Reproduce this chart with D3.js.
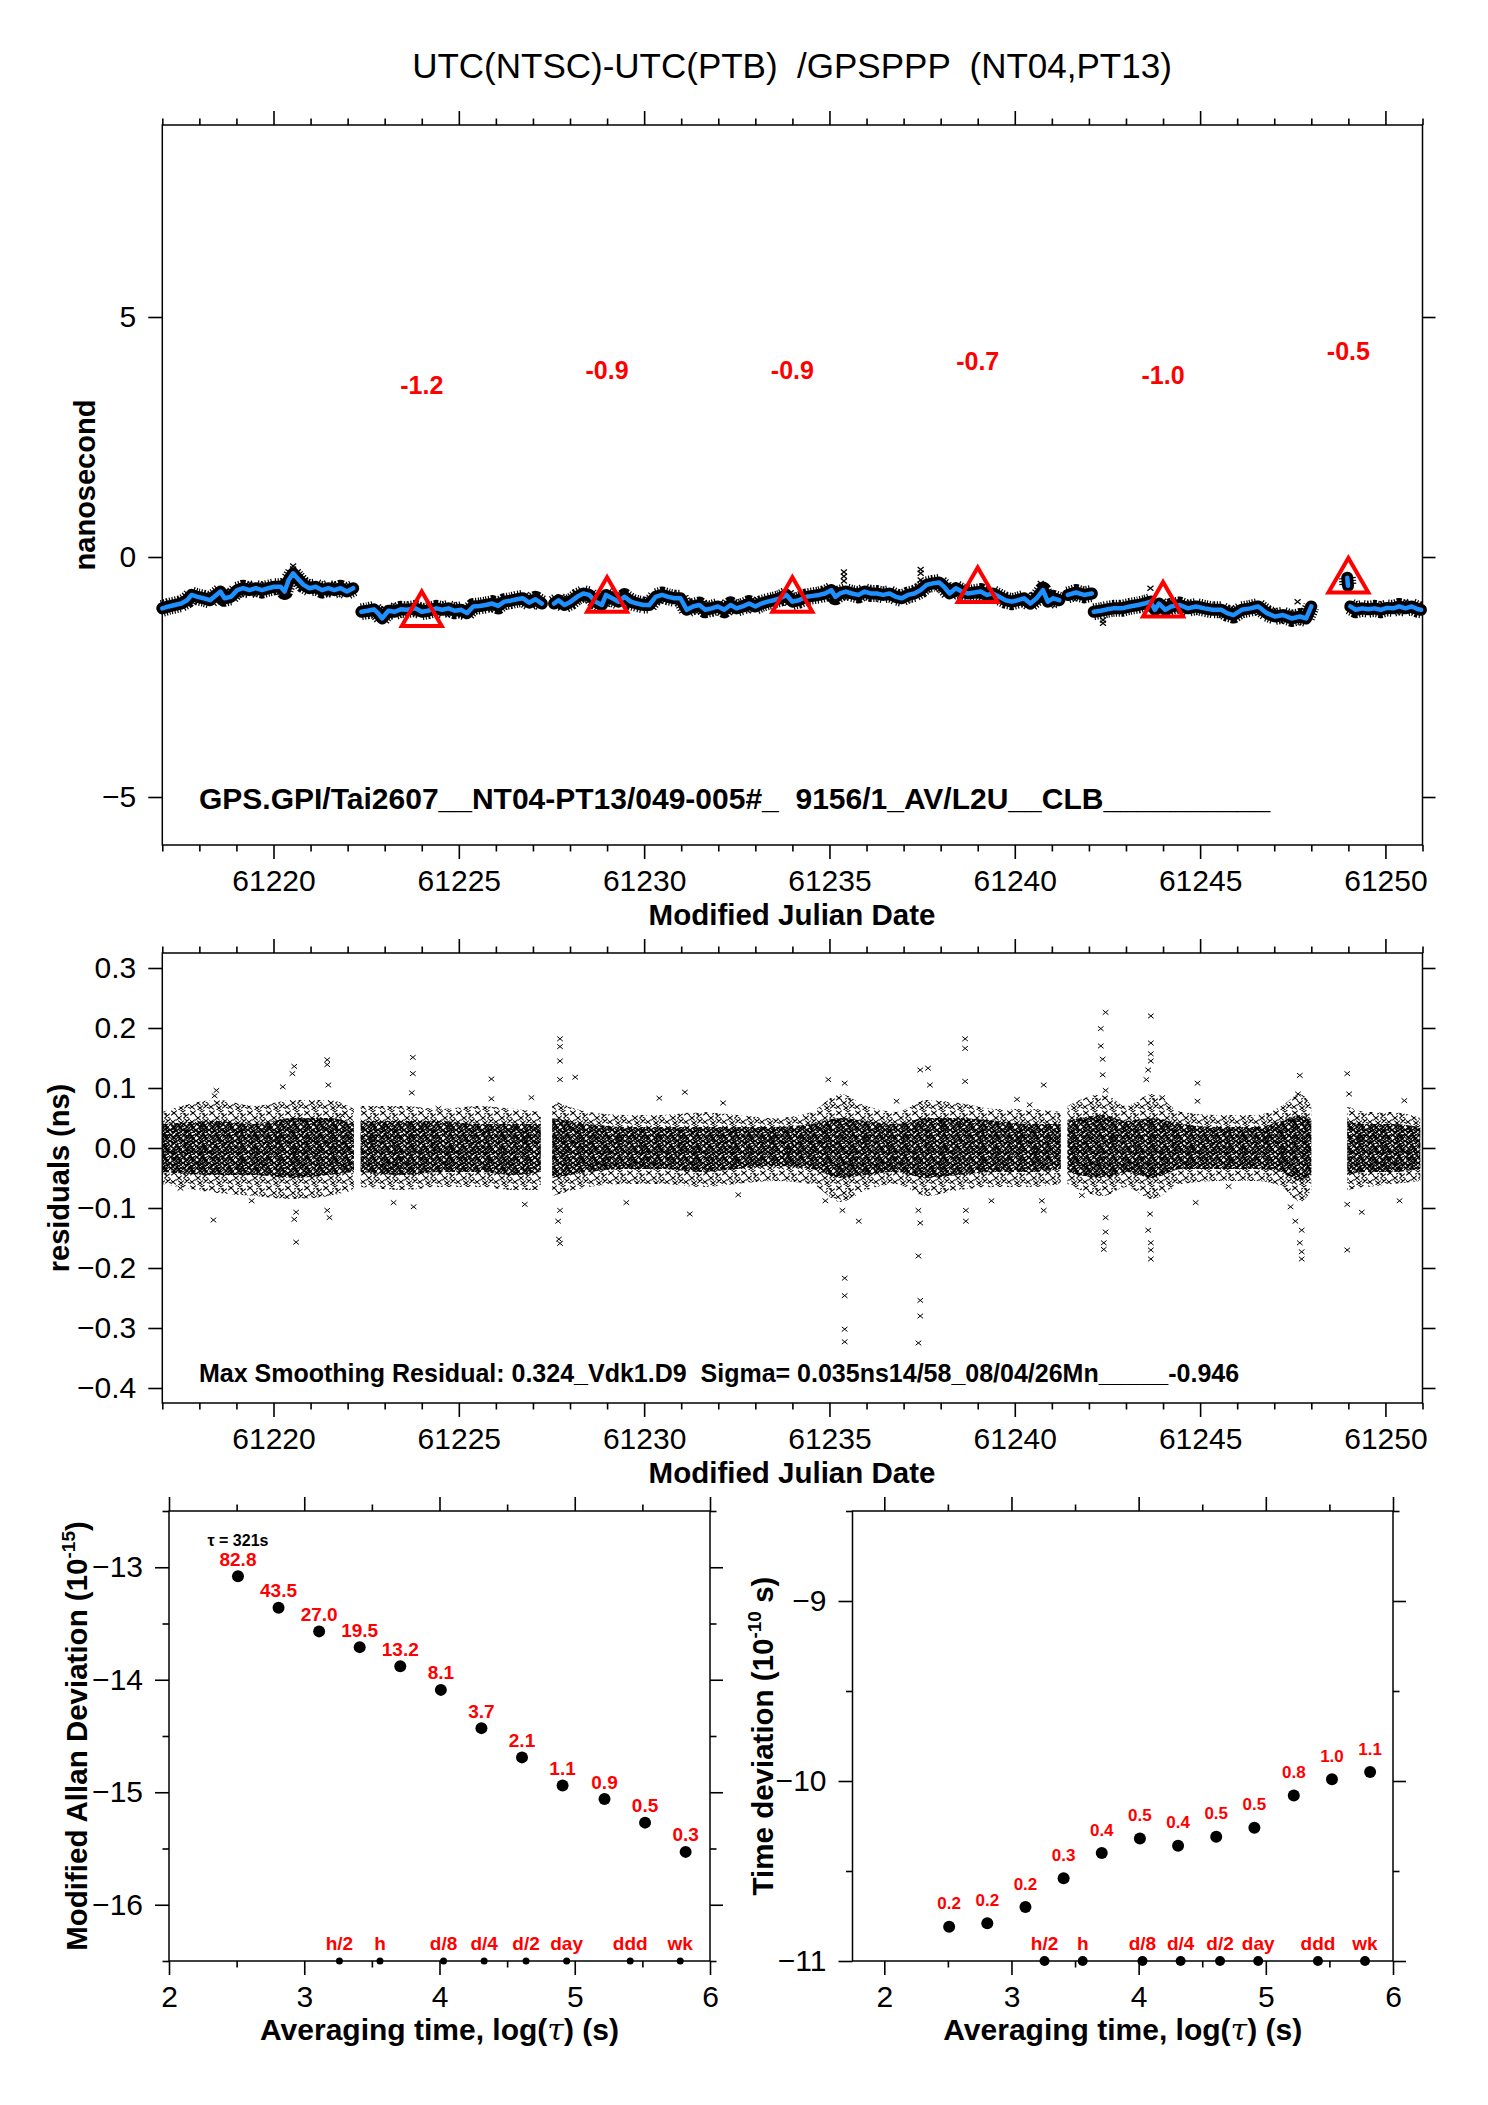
<!DOCTYPE html>
<html lang="en">
<head>
<meta charset="utf-8">
<title>UTC(NTSC)-UTC(PTB) /GPSPPP (NT04,PT13)</title>
<script src="https://cdn.jsdelivr.net/npm/d3@7"></script>
<style>
  body { margin: 0; background: #fff; }
  svg text { font-family: "Liberation Sans", Arial, Helvetica, sans-serif; }
</style>
</head>
<body>
<script>

// ---------- data: top panel (smoothed PPP link, ns) ----------
var smoothSeg1 = [[61217.00,-1.07],[61217.17,-1.03],[61217.34,-1.00],[61217.51,-0.97],[61217.67,-0.90],[61217.79,-0.79],[61217.95,-0.83],[61218.12,-0.86],[61218.29,-0.90],[61218.46,-0.79],[61218.57,-0.72],[61218.68,-0.86],[61218.85,-0.83],[61219.02,-0.69],[61219.18,-0.65],[61219.35,-0.69],[61219.52,-0.65],[61219.69,-0.69],[61219.86,-0.65],[61220.02,-0.62],[61220.19,-0.62],[61220.30,-0.72],[61220.41,-0.48],[61220.53,-0.34],[61220.64,-0.44],[61220.81,-0.58],[61220.97,-0.65],[61221.14,-0.62],[61221.31,-0.69],[61221.48,-0.65],[61221.64,-0.69],[61221.81,-0.65],[61221.98,-0.72],[61222.15,-0.65]];
var smoothSeg2 = [[61222.37,-1.14],[61222.54,-1.12],[61222.71,-1.09],[61222.82,-1.17],[61222.93,-1.28],[61223.10,-1.12],[61223.27,-1.14],[61223.43,-1.09],[61223.60,-1.10],[61223.83,-1.07],[61224.00,-1.14],[61224.16,-1.12],[61224.39,-1.07],[61224.55,-1.10],[61224.72,-1.07],[61224.89,-1.12],[61225.06,-1.10],[61225.22,-1.17],[61225.39,-1.03],[61225.56,-1.02],[61225.73,-1.00],[61225.90,-0.97],[61226.06,-1.02],[61226.23,-0.93],[61226.40,-0.91],[61226.57,-0.88],[61226.73,-0.86],[61226.90,-0.95],[61227.07,-0.88],[61227.24,-0.97]];
var smoothSeg3 = [[61227.57,-0.97],[61227.69,-0.90],[61227.85,-1.00],[61228.02,-0.93],[61228.19,-0.83],[61228.36,-0.76],[61228.52,-0.79],[61228.69,-0.93],[61228.86,-1.00],[61228.97,-0.79],[61229.14,-0.86],[61229.31,-0.93],[61229.47,-0.83],[61229.64,-0.93],[61229.81,-0.97],[61229.98,-1.00],[61230.14,-1.00],[61230.31,-0.83],[61230.48,-0.79],[61230.65,-0.83],[61230.82,-0.86],[61230.98,-0.86],[61231.15,-1.10],[61231.32,-1.03],[61231.49,-1.00],[61231.65,-1.10],[61231.82,-1.07],[61231.99,-1.03],[61232.16,-1.10],[61232.33,-1.00],[61232.49,-1.07],[61232.66,-1.03],[61232.83,-0.97],[61233.00,-1.03],[61233.16,-0.97],[61233.33,-0.93],[61233.50,-0.90],[61233.67,-0.86],[61233.84,-0.79],[61234.00,-0.93],[61234.17,-0.90],[61234.38,-0.83],[61234.55,-0.81],[61234.72,-0.79],[61234.88,-0.76],[61235.05,-0.69],[61235.16,-0.83],[61235.28,-0.76],[61235.44,-0.72],[61235.61,-0.76],[61235.78,-0.79],[61235.95,-0.72],[61236.11,-0.76],[61236.28,-0.76],[61236.45,-0.79],[61236.62,-0.76],[61236.79,-0.83],[61236.95,-0.86],[61237.12,-0.79],[61237.29,-0.76],[61237.46,-0.69],[61237.62,-0.58],[61237.79,-0.55],[61237.96,-0.53],[61238.09,-0.62],[61238.24,-0.76],[61238.41,-0.65],[61238.57,-0.72],[61238.74,-0.76],[61238.91,-0.74],[61239.08,-0.72],[61239.25,-0.79],[61239.41,-0.76],[61239.58,-0.83],[61239.75,-0.90],[61239.92,-0.93],[61240.08,-0.90],[61240.25,-0.86],[61240.42,-0.97],[61240.59,-0.86],[61240.76,-0.69],[61240.89,-0.93],[61241.04,-0.86],[61241.20,-0.90]];
var smoothSeg4 = [[61241.43,-0.79],[61241.65,-0.74],[61241.87,-0.79],[61242.08,-0.76]];
var smoothSeg5 = [[61242.13,-1.14],[61242.32,-1.12],[61242.49,-1.09],[61242.66,-1.07],[61242.88,-1.07],[61243.10,-1.03],[61243.33,-1.00],[61243.50,-0.97],[61243.66,-0.93],[61243.78,-1.10],[61243.89,-0.97],[61244.06,-1.10],[61244.22,-1.03],[61244.45,-1.00],[61244.67,-1.07],[61244.89,-1.03],[61245.12,-1.07],[61245.34,-1.10],[61245.57,-1.10],[61245.73,-1.17],[61245.90,-1.21],[61246.12,-1.10],[61246.35,-1.07],[61246.57,-1.03],[61246.80,-1.17],[61247.02,-1.24],[61247.24,-1.21],[61247.47,-1.28],[61247.69,-1.24],[61247.86,-1.28],[61248.00,-1.03]];
var smoothSeg6 = [[61248.97,-0.43],[61248.99,-0.60]];
var smoothSeg7 = [[61249.05,-1.03],[61249.20,-1.10],[61249.37,-1.07],[61249.54,-1.09],[61249.70,-1.07],[61249.87,-1.10],[61250.04,-1.06],[61250.21,-1.07],[61250.37,-1.03],[61250.54,-1.07],[61250.71,-1.03],[61250.88,-1.09],[61250.96,-1.10]];
var smoothSegments = [smoothSeg1, smoothSeg2, smoothSeg3, smoothSeg4, smoothSeg5, smoothSeg6, smoothSeg7];

// raw points standing out of the black band
var rawSpikes = [[61220.53,-0.19],[61220.53,-0.25],[61235.39,-0.31],[61235.39,-0.40],[61235.39,-0.50],[61237.46,-0.26],[61237.46,-0.34],[61237.46,-0.48],[61240.70,-0.55],[61240.70,-0.62],[61242.38,-1.31],[61242.38,-1.38],[61243.66,-0.65],[61247.63,-0.93]];

// weekly-ish means (red triangles) and their labels
var triMjd = [61224, 61229, 61234, 61239, 61244, 61249];
var triVal = [-1.2, -0.9, -0.9, -0.7, -1.0, -0.5];

// ---------- data: residuals (ns) ----------
// envelope of the dense cloud: [mjd, outerLow, coreLow, coreHigh, outerHigh]
var residSegA = [[61217.00,-0.060,-0.040,0.040,0.060],[61218.5,-0.075,-0.045,0.045,0.080],[61219.5,-0.080,-0.045,0.040,0.070],[61220.5,-0.085,-0.050,0.050,0.080],[61221.5,-0.080,-0.045,0.050,0.080],[61222.17,-0.070,-0.040,0.040,0.065]];
var residSegB = [[61222.35,-0.065,-0.040,0.045,0.070],[61223.5,-0.070,-0.045,0.045,0.070],[61224.5,-0.065,-0.040,0.045,0.065],[61225.5,-0.065,-0.040,0.040,0.070],[61226.5,-0.070,-0.045,0.040,0.065],[61227.21,-0.070,-0.040,0.040,0.060]];
var residSegC = [[61227.52,-0.080,-0.050,0.050,0.080],[61228.5,-0.065,-0.040,0.040,0.060],[61229.5,-0.060,-0.035,0.035,0.055],[61230.5,-0.060,-0.035,0.035,0.055],[61231.5,-0.065,-0.040,0.035,0.060],[61232.5,-0.060,-0.035,0.035,0.055],[61233.5,-0.055,-0.030,0.035,0.050],[61234.5,-0.060,-0.035,0.040,0.060],[61235.3,-0.090,-0.050,0.050,0.090],[61236.0,-0.070,-0.045,0.045,0.070],[61236.8,-0.060,-0.040,0.040,0.060],[61237.6,-0.080,-0.050,0.050,0.080],[61238.5,-0.070,-0.045,0.050,0.075],[61239.5,-0.065,-0.040,0.045,0.065],[61240.5,-0.065,-0.040,0.040,0.065],[61241.24,-0.060,-0.035,0.040,0.060]];
var residSegD = [[61241.42,-0.060,-0.040,0.045,0.070],[61242.4,-0.080,-0.050,0.055,0.090],[61243.0,-0.065,-0.040,0.045,0.070],[61243.7,-0.085,-0.050,0.050,0.090],[61244.5,-0.060,-0.035,0.040,0.060],[61245.5,-0.055,-0.035,0.035,0.055],[61246.5,-0.055,-0.035,0.035,0.055],[61247.2,-0.065,-0.040,0.045,0.070],[61247.7,-0.090,-0.055,0.055,0.090],[61248.0,-0.070,-0.045,0.045,0.070]];
var residSegE = [[61248.97,-0.070,-0.045,0.045,0.070],[61249.5,-0.065,-0.040,0.040,0.060],[61250.2,-0.060,-0.040,0.040,0.060],[61250.94,-0.055,-0.035,0.035,0.050]];
var residSegments = [residSegA, residSegB, residSegC, residSegD, residSegE];

// isolated residuals outside the cloud
var residOutliers = [[61217.49,-0.067],[61218.38,-0.120],[61218.46,0.096],[61218.41,0.087],[61219.41,-0.088],[61220.25,0.102],[61220.51,0.124],[61220.56,0.136],[61220.61,-0.157],[61220.56,-0.119],[61220.61,-0.107],[61221.45,0.147],[61221.45,0.139],[61221.48,0.105],[61221.45,-0.104],[61221.51,-0.116],[61221.86,0.054],
  [61223.76,0.151],[61223.76,0.124],[61223.73,0.092],[61223.78,-0.098],[61223.24,-0.091],[61225.88,0.115],[61225.88,0.082],[61226.78,-0.094],[61226.96,0.084],[61224.45,0.066],
  [61227.73,0.182],[61227.73,0.169],[61227.73,0.145],[61227.73,0.114],[61227.73,-0.104],[61227.68,-0.122],[61227.70,-0.152],[61227.73,-0.159],[61228.14,0.118],[61229.52,-0.091],[61230.41,0.083],[61231.10,0.093],[61231.23,-0.110],[61232.13,0.075],[61232.54,-0.078],
  [61234.97,0.114],[61235.41,0.108],[61235.35,-0.104],[61235.79,-0.122],[61235.41,-0.217],[61235.41,-0.246],[61235.41,-0.302],[61235.41,-0.323],[61234.89,-0.088],[61236.81,0.078],
  [61237.45,0.130],[61237.66,0.133],[61237.40,-0.104],[61237.45,-0.125],[61237.40,-0.180],[61237.45,-0.254],[61237.45,-0.280],[61237.40,-0.325],[61237.71,0.105],
  [61238.66,0.182],[61238.66,0.166],[61238.66,0.111],[61238.68,-0.122],[61238.68,-0.104],[61239.37,-0.088],[61240.06,0.081],[61240.78,0.105],[61240.78,-0.104],[61240.73,-0.088],[61240.40,0.072],
  [61242.45,0.226],[61242.32,0.199],[61242.32,0.170],[61242.37,0.148],[61242.37,0.122],[61242.45,0.096],[61242.45,-0.116],[61242.45,-0.140],[61242.40,-0.158],[61242.40,-0.169],[61241.81,-0.079],
  [61243.67,0.220],[61243.67,0.175],[61243.67,0.157],[61243.67,0.145],[61243.60,0.130],[61243.55,0.114],[61243.65,-0.110],[61243.60,-0.137],[61243.67,-0.158],[61243.67,-0.170],[61243.67,-0.185],[61243.98,0.084],
  [61244.93,0.108],[61244.93,0.078],[61244.88,-0.091],[61245.77,-0.064],[61247.69,0.121],[61247.64,0.090],[61247.57,-0.122],[61247.74,-0.137],[61247.69,-0.158],[61247.74,-0.173],[61247.74,-0.185],[61247.44,-0.098],
  [61248.97,0.124],[61249.02,0.090],[61248.97,-0.094],[61248.97,-0.170],[61249.36,-0.107],[61250.51,0.079],[61250.38,-0.088]];

// ---------- data: stability plots ----------
var tauLog   = [2.51, 2.81, 3.11, 3.41, 3.71, 4.01, 4.31, 4.61, 4.91, 5.22, 5.52, 5.82];
var mdevLog  = [-13.08, -13.36, -13.57, -13.71, -13.88, -14.09, -14.43, -14.69, -14.94, -15.06, -15.27, -15.53];
var mdevText = ["82.8","43.5","27.0","19.5","13.2","8.1","3.7","2.1","1.1","0.9","0.5","0.3"];
var tdevLog  = [-10.81, -10.79, -10.70, -10.54, -10.40, -10.32, -10.36, -10.31, -10.26, -10.08, -9.99, -9.95];
var tdevText = ["0.2","0.2","0.2","0.3","0.4","0.5","0.4","0.5","0.5","0.8","1.0","1.1"];
var markNames = ["h/2","h","d/8","d/4","d/2","day","ddd","wk"];
var markLog   = [3.26, 3.56, 4.03, 4.33, 4.64, 4.94, 5.41, 5.78];

// ---------- tick values ----------
var mjdMajor = [61220, 61225, 61230, 61235, 61240, 61245, 61250];
var mjdMinor = d3.range(61217, 61252).filter(function(d) { return d % 5 !== 0; });
var topYTicks = [-5, 0, 5];
var resYTicks = [-0.4, -0.3, -0.2, -0.1, 0.0, 0.1, 0.2, 0.3];
var logMajor = [2, 3, 4, 5, 6];
var logMinor = [2.5, 3.5, 4.5, 5.5];
var adevMajor = [-16, -15, -14, -13];
var adevMinor = [-16.5, -15.5, -14.5, -13.5, -12.5];
var tdevMajor = [-11, -10, -9];
var tdevMinor = [-10.5, -9.5, -8.5];

// ---------- drawing ----------
var FONT = '"Liberation Sans", Arial, Helvetica, sans-serif';
var W = 1488, H = 2105;
var svg = d3.select("body").append("svg").attr("width", W).attr("height", H);

var defs = svg.append("defs");
function crossPath(x, y, a, b) {
	return "M" + (x - a) + "," + (y - b) + "L" + (x + a) + "," + (y + b) +
	       "M" + (x - a) + "," + (y + b) + "L" + (x + a) + "," + (y - b);
}
//texture for the residual cloud (x glyphs)
function makePattern(id, w, h, spots, sw) {
	var p = defs.append("pattern").attr("id", id).attr("patternUnits", "userSpaceOnUse")
		.attr("width", w).attr("height", h);
	p.append("path").attr("d", spots.map(function(s) { return crossPath(s[0], s[1], 2.8, 2.3); }).join(""))
		.attr("stroke", "#000").attr("stroke-width", sw).attr("fill", "none");
}
makePattern("xdense", 13, 11, [[2,2],[8,1],[5,5],[11,6],[1,8],[7,9],[10,3.5],[4,10],[12,9.5]], 1.25);
makePattern("xsparse", 19, 15, [[3,3],[12,2],[8,8],[16,11],[2,12],[15,6],[10,13]], 1.05);

var xTime = d3.scaleLinear().domain([61217, 61251]).range([162.3, 1422.5]);
var yTop  = d3.scaleLinear().domain([-6, 9]).range([845, 125]);
var yRes  = d3.scaleLinear().domain([-0.425, 0.325]).range([1403, 953]);
var xAdev = d3.scaleLinear().domain([2, 6]).range([169, 710]);
var yAdev = d3.scaleLinear().domain([-16.5, -12.5]).range([1961, 1511]);
var xTdev = d3.scaleLinear().domain([1.75, 6]).range([852.5, 1393]);
var yTdev = d3.scaleLinear().domain([-11, -8.5]).range([1961, 1511]);

function drawFrame(xs, ys, c) {
	var xl = xs.range()[0], xr = xs.range()[1], yt = ys.range()[1], yb = ys.range()[0];
	var g = svg.append("g");
	function add(axis, tx, ty) {
		g.append("g").attr("transform", "translate(" + tx + "," + ty + ")").call(axis);
	}
	add(d3.axisTop(xs).tickValues(c.xMinor).tickSize(6.5).tickSizeOuter(0).tickFormat(""), 0, yt);
	add(d3.axisTop(xs).tickValues(c.xMajor).tickSize(14).tickSizeOuter(0).tickFormat(""), 0, yt);
	add(d3.axisBottom(xs).tickValues(c.xMinor).tickSize(6.5).tickSizeOuter(0).tickFormat(""), 0, yb);
	add(d3.axisBottom(xs).tickValues(c.xMajor).tickSize(14).tickSizeOuter(0).tickPadding(11).tickFormat(c.xFmt), 0, yb);
	if (c.yMinor) {
		add(d3.axisLeft(ys).tickValues(c.yMinor).tickSize(6.5).tickSizeOuter(0).tickFormat(""), xl, 0);
		add(d3.axisRight(ys).tickValues(c.yMinor).tickSize(6.5).tickSizeOuter(0).tickFormat(""), xr, 0);
	}
	add(d3.axisLeft(ys).tickValues(c.yMajor).tickSize(14).tickSizeOuter(0).tickPadding(12).tickFormat(c.yFmt), xl, 0);
	add(d3.axisRight(ys).tickValues(c.yMajor).tickSize(13).tickSizeOuter(0).tickFormat(""), xr, 0);
	g.selectAll(".domain").remove();
	g.selectAll("g").attr("font-size", 30).attr("font-family", FONT);
	g.selectAll("line").attr("stroke", "#000").attr("stroke-width", 1.6);
	g.selectAll("text").attr("fill", "#000");
	g.append("rect").attr("x", xl).attr("y", yt).attr("width", xr - xl).attr("height", yb - yt)
		.attr("fill", "none").attr("stroke", "#000").attr("stroke-width", 1.5);
	return g;
}

function text(x, y, str, size, weight, anchor, fill) {
	return svg.append("text").attr("x", x).attr("y", y).attr("font-size", size)
		.attr("font-weight", weight).attr("text-anchor", anchor || "middle")
		.attr("fill", fill || "#000").style("white-space", "pre").text(str);
}
function yTitle(x, y, str, size) {
	return svg.append("text").attr("transform", "translate(" + x + "," + y + ") rotate(-90)")
		.attr("font-size", size).attr("font-weight", "bold").attr("text-anchor", "middle").text(str);
}

// title
text(792, 78, "UTC(NTSC)-UTC(PTB)  /GPSPPP  (NT04,PT13)", 35, "normal");

// ===== panel 1 =====
drawFrame(xTime, yTop, { xMajor: mjdMajor, xMinor: mjdMinor, xFmt: d3.format("d"),
	yMajor: topYTicks, yFmt: d3.format("d") });

var lineTop = d3.line().x(function(d) { return xTime(d[0]); }).y(function(d) { return yTop(d[1]); });
var pTop = svg.append("g");
smoothSegments.forEach(function(seg) {
	pTop.append("path").attr("d", lineTop(seg)).attr("fill", "none").attr("stroke", "#000")
		.attr("stroke-width", 17).attr("stroke-dasharray", "1.2 1.6").attr("stroke-linejoin", "round");
	pTop.append("path").attr("d", lineTop(seg)).attr("fill", "none").attr("stroke", "#000")
		.attr("stroke-width", 12).attr("stroke-linejoin", "round").attr("stroke-linecap", "round");
});
pTop.selectAll(".spike").data(rawSpikes).join("path").attr("class", "spike")
	.attr("d", function(d) { return crossPath(xTime(d[0]), yTop(d[1]), 3, 2.5); })
	.attr("stroke", "#000").attr("stroke-width", 1.3);
smoothSegments.forEach(function(seg) {
	pTop.append("path").attr("d", lineTop(seg)).attr("fill", "none").attr("stroke", "#1e90ff")
		.attr("stroke-width", 4.5).attr("stroke-linejoin", "round").attr("stroke-linecap", "round");
});

var tris = triMjd.map(function(m, i) { return { m: m, v: triVal[i] }; });
pTop.selectAll(".tri").data(tris).join("path").attr("class", "tri")
	.attr("d", d3.symbol(d3.symbolTriangle, 690))
	.attr("transform", function(d) { return "translate(" + xTime(d.m) + "," + yTop(d.v) + ")"; })
	.attr("fill", "none").attr("stroke", "#ff0000").attr("stroke-width", 4);
pTop.selectAll(".trilab").data(tris).join("text").attr("class", "trilab")
	.attr("x", function(d) { return xTime(d.m); })
	.attr("y", function(d) { return yTop(d.v) - 221; })
	.attr("text-anchor", "middle").attr("font-size", 25).attr("font-weight", "bold").attr("fill", "#ff0000")
	.text(function(d) { return d.v.toFixed(1); });

text(199, 809, "GPS.GPI/Tai2607__NT04-PT13/049-005#_  9156/1_AV/L2U__CLB__________", 30, "bold", "start");
yTitle(95, 485, "nanosecond", 29);
text(792, 925, "Modified Julian Date", 29.5, "bold");

// ===== panel 2 =====
drawFrame(xTime, yRes, { xMajor: mjdMajor, xMinor: mjdMinor, xFmt: d3.format("d"),
	yMajor: resYTicks, yFmt: d3.format(".1f") });

var outerArea = d3.area().curve(d3.curveMonotoneX).x(function(d) { return xTime(d[0]); })
	.y0(function(d) { return yRes(d[1]); }).y1(function(d) { return yRes(d[4]); });
var coreArea = d3.area().curve(d3.curveMonotoneX).x(function(d) { return xTime(d[0]); })
	.y0(function(d) { return yRes(d[2]); }).y1(function(d) { return yRes(d[3]); });
var pRes = svg.append("g");
residSegments.forEach(function(seg) {
	pRes.append("path").attr("d", outerArea(seg)).attr("fill", "url(#xsparse)");
	pRes.append("path").attr("d", coreArea(seg)).attr("fill", "url(#xdense)");
});
pRes.selectAll(".out").data(residOutliers).join("path").attr("class", "out")
	.attr("d", function(d) { return crossPath(xTime(d[0]), yRes(d[1]), 2.8, 2.3); })
	.attr("stroke", "#000").attr("stroke-width", 1);

text(199, 1382, "Max Smoothing Residual: 0.324_Vdk1.D9  Sigma= 0.035ns14/58_08/04/26Mn_____-0.946", 25, "bold", "start");
yTitle(69, 1178, "residuals (ns)", 29);
text(792, 1483, "Modified Julian Date", 29.5, "bold");

// ===== panel 3: modified Allan deviation =====
drawFrame(xAdev, yAdev, { xMajor: logMajor, xMinor: logMinor, xFmt: d3.format("d"),
	yMajor: adevMajor, yMinor: adevMinor, yFmt: d3.format("d") });

// ===== panel 4: time deviation =====
drawFrame(xTdev, yTdev, { xMajor: logMajor, xMinor: logMinor, xFmt: d3.format("d"),
	yMajor: tdevMajor, yMinor: tdevMinor, yFmt: d3.format("d") });

function stabPanel(xs, ys, vals, labels, labSize, labOff, markR) {
	var g = svg.append("g");
	var pts = tauLog.map(function(t, i) { return { t: t, v: vals[i], s: labels[i] }; });
	g.selectAll(".pt").data(pts).join("circle").attr("class", "pt")
		.attr("cx", function(d) { return xs(d.t); }).attr("cy", function(d) { return ys(d.v); })
		.attr("r", 6).attr("fill", "#000");
	g.selectAll(".lab").data(pts).join("text").attr("class", "lab")
		.attr("x", function(d) { return xs(d.t); }).attr("y", function(d) { return ys(d.v) - labOff; })
		.attr("text-anchor", "middle").attr("font-size", labSize).attr("font-weight", "bold")
		.attr("fill", "#ff0000").text(function(d) { return d.s; });
	var marks = markLog.map(function(m, i) { return { m: m, s: markNames[i] }; });
	var yb = ys.range()[0];
	g.selectAll(".mk").data(marks).join("circle").attr("class", "mk")
		.attr("cx", function(d) { return xs(d.m); }).attr("cy", yb).attr("r", markR).attr("fill", "#000");
	g.selectAll(".mklab").data(marks).join("text").attr("class", "mklab")
		.attr("x", function(d) { return xs(d.m); }).attr("y", yb - 11)
		.attr("text-anchor", "middle").attr("font-size", 19).attr("font-weight", "bold")
		.attr("fill", "#ff0000").text(function(d) { return d.s; });
	return g;
}
stabPanel(xAdev, yAdev, mdevLog, mdevText, 19, 10.5, 3.5);
stabPanel(xTdev, yTdev, tdevLog, tdevText, 17, 17.5, 5);

text(xAdev(tauLog[0]), yAdev(mdevLog[0]) - 30, "\u03c4 = 321s", 16, "bold");

var t1 = svg.append("text").attr("transform", "translate(87,1736) rotate(-90)")
	.attr("font-size", 29.5).attr("font-weight", "bold").attr("text-anchor", "middle");
t1.append("tspan").text("Modified Allan Deviation (10");
t1.append("tspan").attr("font-size", 19).attr("dy", -12).text("-15");
t1.append("tspan").attr("dy", 12).text(")");

var t2 = svg.append("text").attr("transform", "translate(773,1736) rotate(-90)")
	.attr("font-size", 29.5).attr("font-weight", "bold").attr("text-anchor", "middle");
t2.append("tspan").text("Time deviation (10");
t2.append("tspan").attr("font-size", 19).attr("dy", -12).text("-10");
t2.append("tspan").attr("dy", 12).style("white-space", "pre").text(" s)");

[xAdev, xTdev].forEach(function(xs) {
	var cx = (xs.range()[0] + xs.range()[1]) / 2;
	var t = svg.append("text").attr("x", cx).attr("y", 2040).attr("font-size", 30)
		.attr("font-weight", "bold").attr("text-anchor", "middle");
	t.append("tspan").text("Averaging time, log(");
	t.append("tspan").attr("font-family", '"DejaVu Serif", serif').attr("font-style", "italic")
		.attr("font-weight", "normal").text("\u03c4");
	t.append("tspan").text(") (s)");
});

</script>
</body>
</html>
